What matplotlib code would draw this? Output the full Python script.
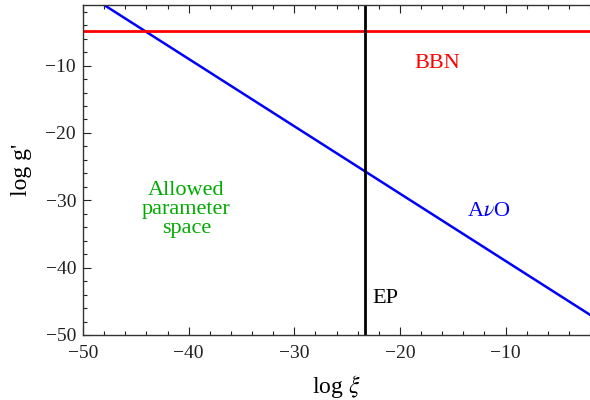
import matplotlib
matplotlib.use('Agg')
import matplotlib.pyplot as plt
from matplotlib.ticker import MultipleLocator

plt.rcParams['font.family'] = ['Liberation Serif', 'DejaVu Serif']
plt.rcParams['mathtext.fontset'] = 'stix'

# Constraint curves in the (log xi, log g') plane
avo_xi = [-50, -2]
avo_g = [1, -47]
bbn_g = -4.8
ep_xi = -23.3

xlim = (-50, -2)
ylim = (-50, -1)

fig = plt.figure(figsize=(5.9, 4.0), dpi=100)
ax = fig.add_axes([0.1407, 0.1625, 0.8593, 0.825])

ax.plot(avo_xi, avo_g, color="#0000ff", linewidth=1.8)
ax.axhline(bbn_g, color="#ff0000", linewidth=2.0)
ax.axvline(ep_xi, color="black", linewidth=2.0)

ax.text(-16.5, -9.7, "BBN", color="#ff0000", fontsize=16, ha="center", va="center")
ax.text(-11.6, -31.7, r"A$\nu$O", color="#0000ff", fontsize=16, ha="center", va="center")
ax.text(-22.6, -44.6, "EP", color="black", fontsize=16, ha="left", va="center")
ax.text(-40.2, -31.4, "Allowed\nparameter\nspace", color="#00aa00", fontsize=16,
        ha="center", va="center", linespacing=1.0)

ax.set_xlim(*xlim)
ax.set_ylim(*ylim)
ax.xaxis.set_major_locator(MultipleLocator(10))
ax.xaxis.set_minor_locator(MultipleLocator(2))
ax.yaxis.set_major_locator(MultipleLocator(10))
ax.yaxis.set_minor_locator(MultipleLocator(2))
ax.tick_params(which="both", direction="in", top=True, right=False, labelsize=14,
               colors="#222222", width=0.8)
ax.tick_params(axis="x", pad=7)
ax.tick_params(axis="y", pad=5)
ax.tick_params(which="major", length=6)
ax.tick_params(which="minor", length=3)
for s in ax.spines.values():
    s.set_linewidth(1.0)
    s.set_color("#333333")
ax.spines["right"].set_visible(False)

ax.set_xlabel(r"log $\xi$", fontsize=17, labelpad=8)
ax.set_ylabel("log g'", fontsize=17, labelpad=10)

fig.savefig("out.png", dpi=100)
